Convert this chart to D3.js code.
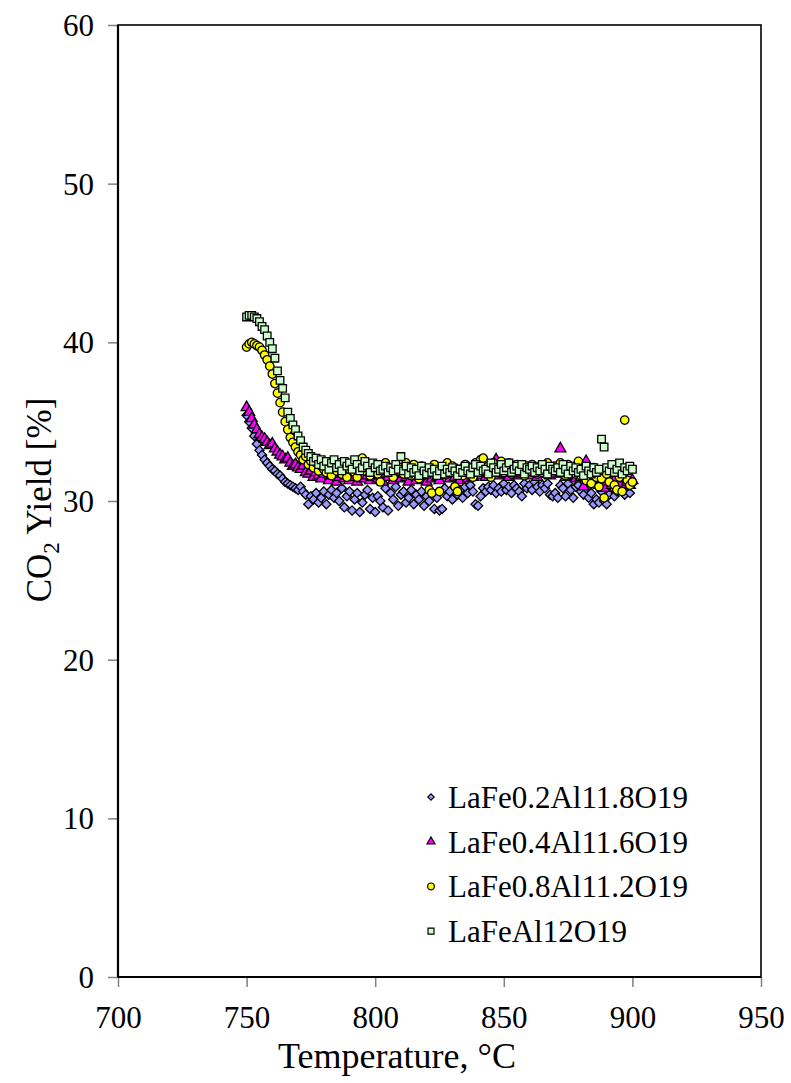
<!DOCTYPE html>
<html>
<head>
<meta charset="utf-8">
<script src="https://cdn.jsdelivr.net/npm/d3@7"></script>
<style>
  html, body { margin: 0; padding: 0; background: #fff; }
  svg { display: block; }
  text { font-family: "Liberation Serif", "Times New Roman", serif; fill: #000; }
</style>
</head>
<body>
<svg id="chart" width="791" height="1083"></svg>
<script>
// Reactor temperature (°C) at each sample
const temperature = [
  750,751,752,753,754,755,756,757,758,759,
  760,761,762,763,764,765,766,767,768,769,
  770,771,772,773,774,775,776,777,778,779,
  780,781,782,783,784,785,786,787,788,789,
  790,791,792,793,794,795,796,797,798,799,
  800,801,802,803,804,805,806,807,808,809,
  810,811,812,813,814,815,816,817,818,819,
  820,821,822,823,824,825,826,827,828,829,
  830,831,832,833,834,835,836,837,838,839,
  840,841,842,843,844,845,846,847,848,849,
  850,851,852,853,854,855,856,857,858,859,
  860,861,862,863,864,865,866,867,868,869,
  870,871,872,873,874,875,876,877,878,879,
  880,881,882,883,884,885,886,887,888,889,
  890,891,892,893,894,895,896,897,898,899,
  900
];

// CO2 yield [%] for each catalyst
const yieldFe02 = [
  35.4,35.0,34.6,34.1,33.6,33.2,32.9,32.6,32.4,32.2,
  32.0,31.9,31.7,31.6,31.4,31.2,31.1,31.0,30.9,30.8,
  30.7,30.9,30.6,30.4,29.8,30.3,30.1,30.5,29.9,30.2,
  30.6,29.8,30.4,30.7,30.2,30.5,30.0,30.8,29.6,30.3,
  30.6,29.4,30.1,30.5,29.3,29.9,30.4,30.7,29.5,30.2,
  29.3,30.3,30.0,29.6,30.8,29.4,30.5,30.1,30.9,29.7,
  30.4,30.6,29.9,30.2,30.7,29.8,30.4,30.1,30.6,29.7,
  30.3,30.0,30.5,29.5,30.2,29.4,29.5,30.8,30.3,30.6,
  30.1,30.9,30.4,30.7,30.2,30.9,30.5,31.0,30.6,29.8,
  29.7,30.3,30.8,30.6,30.9,30.7,31.0,30.5,30.8,30.6,
  31.1,30.7,30.9,30.5,31.0,30.8,30.6,30.3,31.1,30.8,
  31.0,30.7,31.2,30.9,30.6,31.0,30.8,31.1,30.4,30.3,
  30.5,30.2,31.0,30.8,30.3,31.1,30.7,30.2,30.9,31.0,
  30.6,30.4,30.8,30.2,30.5,29.8,30.1,29.9,30.6,30.0,
  29.8,30.4,30.9,30.3,30.6,31.0,30.7,30.4,30.8,30.5,
  31.1
];

const yieldFe04 = [
  35.9,35.6,35.2,34.8,34.5,34.2,34.0,33.9,33.7,33.5,
  33.6,33.3,33.1,32.9,32.8,32.6,32.7,32.4,32.2,32.3,
  32.1,32.0,32.2,31.8,31.7,31.9,31.5,31.8,31.6,31.4,
  31.7,31.9,31.3,31.6,31.8,31.2,31.5,31.7,31.4,31.6,
  31.3,31.8,31.5,31.2,31.7,31.4,31.9,31.6,31.3,31.5,
  31.8,31.4,31.6,31.2,31.7,31.5,31.9,31.3,31.6,31.8,
  31.4,31.7,31.5,31.2,31.8,31.6,31.3,31.7,31.5,31.9,
  31.2,31.6,31.4,31.8,31.5,31.3,31.7,31.6,32.0,31.4,
  31.7,31.5,31.9,31.3,31.6,31.8,31.4,31.7,31.5,31.9,
  31.6,31.8,32.1,31.5,31.7,31.9,32.0,32.6,31.6,31.8,
  31.7,31.9,31.5,32.0,31.8,31.6,31.9,31.7,32.1,31.8,
  31.6,32.0,31.8,31.5,31.9,31.7,32.0,31.8,31.6,31.9,
  31.7,32.0,33.3,31.8,31.5,31.9,31.6,31.8,31.4,31.7,
  31.5,30.9,32.5,31.3,31.6,31.2,31.5,31.0,31.4,30.8,
  31.2,31.5,31.0,31.3,30.7,31.1,31.4,30.9,31.2,31.0,
  31.3
];

const yieldFe08 = [
  39.7,39.9,40.0,39.9,39.8,39.7,39.5,39.2,38.9,38.5,
  38.0,37.4,36.8,36.2,35.6,35.0,34.5,34.0,33.7,33.4,
  33.1,32.9,32.6,32.8,32.3,32.5,32.1,32.4,31.9,32.2,
  32.0,31.8,32.3,31.6,32.1,31.9,32.4,31.7,32.2,31.5,
  32.0,32.3,31.8,31.5,32.1,32.7,31.9,32.2,31.6,32.0,
  32.3,31.7,31.2,32.1,32.4,31.8,32.0,31.5,32.2,31.9,
  32.1,31.7,32.4,32.0,31.6,32.3,31.9,31.4,32.2,31.8,
  32.0,30.7,30.5,32.3,31.9,30.6,32.1,31.7,32.4,31.8,
  32.2,30.9,30.6,32.0,31.6,32.3,31.9,32.1,31.5,32.4,
  32.0,32.6,32.7,31.8,32.2,31.5,32.4,31.9,32.1,32.5,
  31.8,32.2,32.4,31.7,32.0,32.3,31.9,32.1,31.6,32.2,
  31.9,32.3,32.0,31.7,32.2,31.8,32.1,32.4,31.9,32.0,
  32.2,31.8,32.4,32.0,31.6,32.3,31.9,32.1,31.7,32.5,
  31.6,32.0,31.3,31.8,31.1,32.1,31.5,30.9,31.4,30.2,
  31.7,31.2,32.1,31.0,30.7,31.5,30.6,35.1,31.3,31.0,
  31.2
];

const yieldFe10 = [
  41.6,41.7,41.7,41.6,41.5,41.3,41.0,40.8,40.4,40.0,
  39.6,39.0,38.2,37.6,37.1,36.5,35.6,35.2,34.8,34.5,
  34.1,33.8,33.4,33.2,33.0,32.8,32.5,32.7,32.3,32.6,
  32.2,32.5,32.0,32.4,32.6,32.1,32.3,31.9,32.5,32.2,
  32.4,32.0,32.6,32.3,31.9,32.1,32.5,32.2,31.8,32.4,
  32.1,32.3,31.9,32.0,32.2,31.8,32.1,31.9,32.3,32.0,
  32.8,31.9,32.2,31.7,32.1,31.8,32.0,31.6,32.2,31.9,
  31.7,32.1,31.8,32.0,31.6,31.9,32.2,31.7,32.0,31.8,
  32.1,31.9,31.6,32.0,31.8,32.2,31.9,31.7,32.1,32.3,
  31.8,32.2,31.9,32.0,31.7,32.4,32.1,31.8,32.0,32.3,
  31.9,32.1,32.4,31.8,32.0,32.2,31.9,32.3,31.7,32.1,
  32.0,32.2,31.8,32.1,31.9,32.3,32.0,31.7,32.2,32.0,
  31.9,32.1,31.8,32.3,32.0,31.7,32.2,31.9,32.1,31.8,
  32.0,31.6,32.2,31.9,31.7,32.1,31.8,32.0,33.9,33.4,
  32.1,31.9,32.3,31.8,32.0,32.4,31.7,32.1,31.9,32.2,
  32.0
];

const seriesNames = ["LaFe0.2Al11.8O19", "LaFe0.4Al11.6O19", "LaFe0.8Al11.2O19", "LaFeAl12O19"];
const seriesValues = [yieldFe02, yieldFe04, yieldFe08, yieldFe10];
const seriesFills = ["#9999ff", "#ff00ff", "#ffff00", "#ccffcc"];

const xTicks = [700, 750, 800, 850, 900, 950];
const yTicks = [0, 10, 20, 30, 40, 50, 60];

const svg = d3.select("#chart");
const plot = { left: 118, right: 761, top: 25, bottom: 977 };

const x = d3.scaleLinear().domain([700, 950]).range([plot.left, plot.right]);
const y = d3.scaleLinear().domain([0, 60]).range([plot.bottom, plot.top]);

// marker shapes per series
const shapes = [
  { type: d3.symbolSquare, size: 42, rotate: 45 },
  { type: d3.symbolTriangle, size: 52, rotate: 0 },
  { type: d3.symbolCircle, size: 56, rotate: 0 },
  { type: d3.symbolSquare, size: 58, rotate: 0 }
];
const legendShapes = [
  { type: d3.symbolSquare, size: 20, rotate: 45 },
  { type: d3.symbolTriangle, size: 28, rotate: 0 },
  { type: d3.symbolCircle, size: 36, rotate: 0 },
  { type: d3.symbolSquare, size: 36, rotate: 0 }
];

// axes with outward ticks
const xAxis = svg.append("g")
  .attr("transform", `translate(0,${plot.bottom})`)
  .call(d3.axisBottom(x).tickValues(xTicks).tickSize(10).tickPadding(12).tickFormat(d3.format("d")));
const yAxis = svg.append("g")
  .attr("transform", `translate(${plot.left},0)`)
  .call(d3.axisLeft(y).tickValues(yTicks).tickSize(10).tickPadding(14).tickFormat(d3.format("d")));

[xAxis, yAxis].forEach(g => {
  g.attr("font-family", null).attr("font-size", null);
  g.select(".domain").remove();
  g.selectAll(".tick line").attr("stroke", "#808080").attr("stroke-width", 1.5);
  g.selectAll(".tick text").style("font-size", "31px").attr("fill", "#000");
});
yAxis.selectAll(".tick text").attr("dy", "0.34em");
xAxis.selectAll(".tick text").attr("dy", "0.95em");

// plot frame
svg.append("rect")
  .attr("x", plot.left).attr("y", plot.top)
  .attr("width", plot.right - plot.left).attr("height", plot.bottom - plot.top)
  .attr("fill", "none").attr("stroke", "#000").attr("stroke-width", 1.6);
svg.append("line")
  .attr("x1", plot.left).attr("x2", plot.left)
  .attr("y1", plot.top).attr("y2", plot.bottom)
  .attr("stroke", "#000").attr("stroke-width", 2.2);
svg.append("line")
  .attr("x1", plot.left).attr("x2", plot.right)
  .attr("y1", plot.bottom).attr("y2", plot.bottom)
  .attr("stroke", "#000").attr("stroke-width", 2.2);

// scatter series
seriesValues.forEach((vals, i) => {
  const sym = d3.symbol().type(shapes[i].type).size(shapes[i].size);
  svg.append("g").selectAll("path")
    .data(vals.map((v, k) => [temperature[k], v]))
    .join("path")
    .attr("d", sym)
    .attr("transform", d => `translate(${x(d[0])},${y(d[1])}) rotate(${shapes[i].rotate})`)
    .attr("fill", seriesFills[i])
    .attr("stroke", "#000")
    .attr("stroke-width", 1.3);
});

// legend
const legend = svg.append("g");
seriesNames.forEach((name, i) => {
  const yy = 797 + i * 44.7;
  legend.append("path")
    .attr("d", d3.symbol().type(legendShapes[i].type).size(legendShapes[i].size)())
    .attr("transform", `translate(431,${yy}) rotate(${legendShapes[i].rotate})`)
    .attr("fill", seriesFills[i]).attr("stroke", "#000").attr("stroke-width", 1.2);
  legend.append("text")
    .attr("x", 448).attr("y", yy).attr("dy", "0.35em")
    .style("font-size", "31px")
    .text(name);
});

// axis titles
svg.append("text")
  .attr("x", 397).attr("y", 1068)
  .attr("text-anchor", "middle").style("font-size", "36px")
  .text("Temperature, °C");

const yTitle = svg.append("text")
  .attr("transform", "translate(51,500) rotate(-90)")
  .attr("text-anchor", "middle").style("font-size", "35px");
yTitle.append("tspan").text("CO");
yTitle.append("tspan").style("font-size", "23px").attr("dy", 8).text("2");
yTitle.append("tspan").attr("dy", -8).text(" Yield [%]");
</script>
</body>
</html>
